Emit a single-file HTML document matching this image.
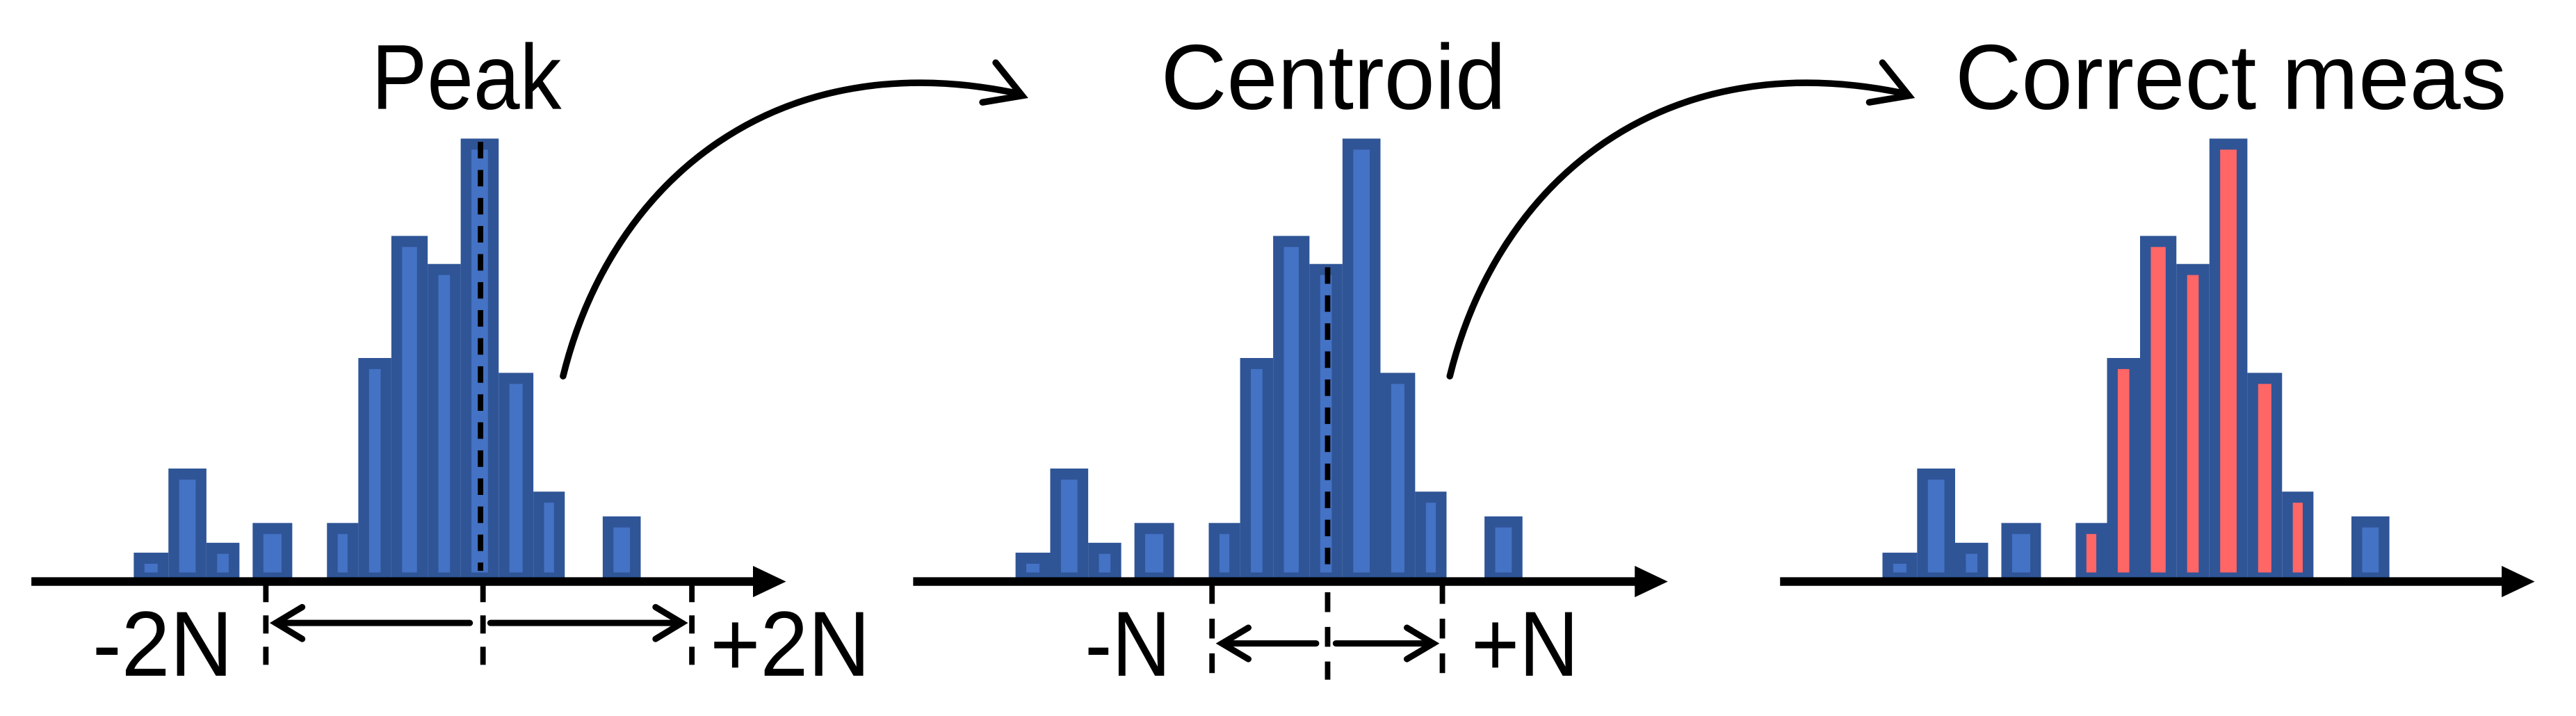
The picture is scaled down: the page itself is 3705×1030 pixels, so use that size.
<!DOCTYPE html>
<html><head><meta charset="utf-8"><style>html,body{margin:0;padding:0;background:#fff;}svg{display:block;}</style></head>
<body>
<svg width="3705" height="1030" viewBox="0 0 1560 434" preserveAspectRatio="none" xmlns="http://www.w3.org/2000/svg" font-family="Liberation Sans, DejaVu Sans, sans-serif">
<defs>
<g id="outer" fill="#2F5597">
<rect x="81" y="335" width="21" height="15"/>
<rect x="102" y="284" width="23" height="66"/>
<rect x="125" y="329" width="20" height="21"/>
<rect x="153" y="317" width="24" height="33"/>
<rect x="198" y="317" width="19" height="33"/>
<rect x="217" y="217" width="20" height="133"/>
<rect x="237" y="143" width="22" height="207"/>
<rect x="259" y="160" width="20" height="190"/>
<rect x="279" y="84" width="23" height="266"/>
<rect x="302" y="226" width="21" height="124"/>
<rect x="323" y="298" width="19" height="52"/>
<rect x="365" y="313" width="23" height="37"/>
</g>
<g id="innerSide" fill="#4472C4">
<rect x="87.5" y="341.7" width="8" height="5.3"/>
<rect x="108.5" y="290.7" width="10" height="56.3"/>
<rect x="131.5" y="335.7" width="7" height="11.3"/>
<rect x="159.5" y="323.7" width="11" height="23.3"/>
<rect x="371.5" y="319.7" width="10" height="27.3"/>
</g>
<g id="innerMid">
<rect x="204.5" y="323.7" width="6" height="23.3"/>
<rect x="223.5" y="223.7" width="7" height="123.3"/>
<rect x="243.5" y="149.7" width="9" height="197.3"/>
<rect x="265.5" y="166.7" width="7" height="180.3"/>
<rect x="285.5" y="90.7" width="10" height="256.3"/>
<rect x="308.5" y="232.7" width="8" height="114.3"/>
<rect x="329.5" y="304.7" width="6" height="42.3"/>
</g>
<g id="axis">
<line x1="19" y1="352.5" x2="458" y2="352.5" stroke="#000" stroke-width="5.2"/>
<polygon points="456,343 476,352.5 456,362" fill="#000"/>
</g>
</defs>

<use href="#outer"/>
<use href="#innerSide"/>
<use href="#innerMid" fill="#4472C4"/>
<use href="#axis"/>
<line x1="291" y1="86" x2="291" y2="346" stroke="#000" stroke-width="3.3" stroke-dasharray="10,7"/>
<g stroke="#000" stroke-width="3.3" stroke-dasharray="11,8">
<line x1="161" y1="354" x2="161" y2="410"/>
<line x1="292.5" y1="354" x2="292.5" y2="410"/>
<line x1="419" y1="354" x2="419" y2="410"/>
</g>
<g stroke="#000" stroke-width="3.8" fill="none" stroke-linecap="round">
<line x1="167" y1="377.6" x2="284.5" y2="377.6"/>
<polyline points="183,368 167,377.6 183,387.3"/>
<line x1="297" y1="377.6" x2="413" y2="377.6"/>
<polyline points="397,368 413,377.6 397,387.3"/>
</g>
<text x="56" y="409.6" font-size="56" textLength="85" lengthAdjust="spacingAndGlyphs">-2N</text>
<text x="430" y="409.6" font-size="56" textLength="97" lengthAdjust="spacingAndGlyphs">+2N</text>
<text x="225" y="66" font-size="56" textLength="115" lengthAdjust="spacingAndGlyphs">Peak</text>
<g stroke="#000" stroke-width="4" fill="none" stroke-linecap="round">
<path d="M341,228 C370,110 470,25 618,57"/>
<polyline points="603,38 619,58 595,62"/>
</g>

<g transform="translate(534,0)">
<use href="#outer"/>
<use href="#innerSide"/>
<use href="#innerMid" fill="#4472C4"/>
<use href="#axis"/>
</g>
<line x1="804" y1="162" x2="804" y2="346" stroke="#000" stroke-width="3.3" stroke-dasharray="10,7"/>
<g stroke="#000" stroke-width="3.3" stroke-dasharray="12,9">
<line x1="734" y1="354" x2="734" y2="410"/>
<line x1="804" y1="359" x2="804" y2="412"/>
<line x1="873.5" y1="354" x2="873.5" y2="410"/>
</g>
<g stroke="#000" stroke-width="3.8" fill="none" stroke-linecap="round">
<line x1="740" y1="390" x2="797" y2="390"/>
<polyline points="756,380.5 740,390 756,399.5"/>
<line x1="809" y1="390" x2="868" y2="390"/>
<polyline points="852,380.5 868,390 852,399.5"/>
</g>
<text x="657" y="409.6" font-size="56" textLength="52" lengthAdjust="spacingAndGlyphs">-N</text>
<text x="891" y="409.6" font-size="56" textLength="65" lengthAdjust="spacingAndGlyphs">+N</text>
<text x="703" y="66" font-size="56" textLength="209" lengthAdjust="spacingAndGlyphs">Centroid</text>
<g stroke="#000" stroke-width="4" fill="none" stroke-linecap="round" transform="translate(537,0)">
<path d="M341,228 C370,110 470,25 618,57"/>
<polyline points="603,38 619,58 595,62"/>
</g>

<g transform="translate(1059,0)">
<use href="#outer"/>
<use href="#innerSide"/>
<use href="#innerMid" fill="#FF6666"/>
<use href="#axis"/>
</g>
<text x="1184" y="66" font-size="56" textLength="334" lengthAdjust="spacingAndGlyphs">Correct meas</text>
</svg>
</body></html>
